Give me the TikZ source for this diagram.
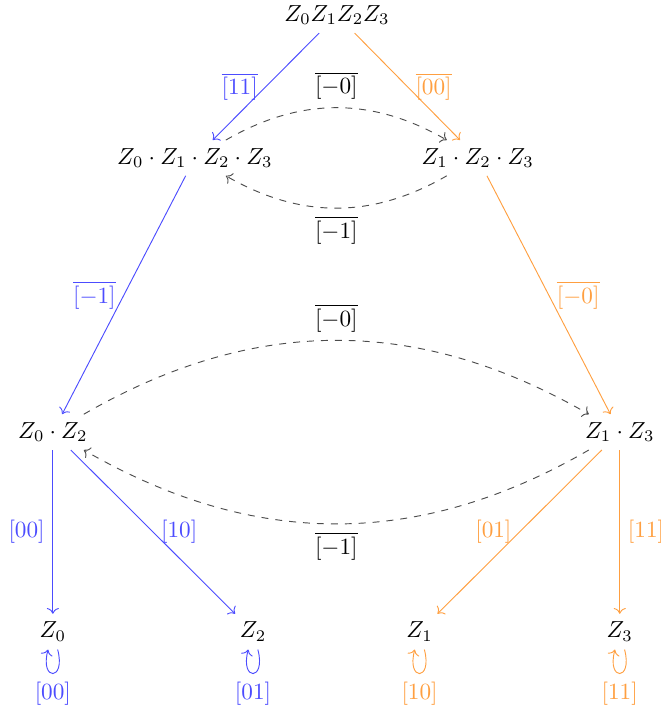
\documentclass[tikz,border=0pt]{standalone}
\usepackage{amsmath,amssymb}
\usepackage{tikz}
\usetikzlibrary{positioning,arrows.meta,calc}

\begin{document}
\begin{tikzpicture}[
  lbranch/.style={->, blue!70},
  rbranch/.style={->, orange!75},
  hop/.style={->, dashed, draw=black!70, text=black},
  elbl/.style={midway}
]
  \useasboundingbox (0,0) rectangle (10,-10.67);

  % --- nodes ---
  \node (top) at (5.10,-0.23) {$Z_0Z_1Z_2Z_3$};
  \node (all) at (2.95,-2.39) {$Z_0\cdot Z_1\cdot Z_2\cdot Z_3$};
  \node (odd) at (7.23,-2.39) {$Z_1\cdot Z_2\cdot Z_3$};
  \node (zl) at (0.80,-6.54) {$Z_0\cdot Z_2$};
  \node (zr) at (9.38,-6.54) {$Z_1\cdot Z_3$};
  \node (z0) at (0.80,-9.56) {$Z_0$};
  \node (z2) at (3.83,-9.56) {$Z_2$};
  \node (z1) at (6.35,-9.56) {$Z_1$};
  \node (z3) at (9.38,-9.56) {$Z_3$};

  % --- left branch ---
  \draw[lbranch] (top) -- node[elbl,left] {$\overline{[11]}$} (all);
  \draw[lbranch] (all) -- node[elbl,left] {$\overline{[-1]}$} (zl);
  \draw[lbranch] (zl) -- node[elbl,left] {$[00]$} (z0);
  \draw[lbranch] (zl) -- node[elbl,right] {$[10]$} (z2);

  % --- right branch ---
  \draw[rbranch] (top) -- node[elbl,right] {$\overline{[00]}$} (odd);
  \draw[rbranch] (odd) -- node[elbl,right] {$\overline{[-0]}$} (zr);
  \draw[rbranch] (zr) -- node[elbl,left] {$[01]$} (z1);
  \draw[rbranch] (zr) -- node[elbl,right] {$[11]$} (z3);

  % --- dashed links ---
  \draw[hop] (all) to[bend left=30] node[above] {$\overline{[-0]}$} (odd);
  \draw[hop] (odd) to[bend left=30] node[below] {$\overline{[-1]}$} (all);
  \draw[hop] (zl) to[bend left=30] node[above] {$\overline{[-0]}$} (zr);
  \draw[hop] (zr) to[bend left=30] node[below] {$\overline{[-1]}$} (zl);

  % --- self loops ---
  \draw[lbranch] (z0) to[loop below] node[below] {$[00]$} ();
  \draw[lbranch] (z2) to[loop below] node[below] {$[01]$} ();
  \draw[rbranch] (z1) to[loop below] node[below] {$[10]$} ();
  \draw[rbranch] (z3) to[loop below] node[below] {$[11]$} ();
\end{tikzpicture}
\end{document}
